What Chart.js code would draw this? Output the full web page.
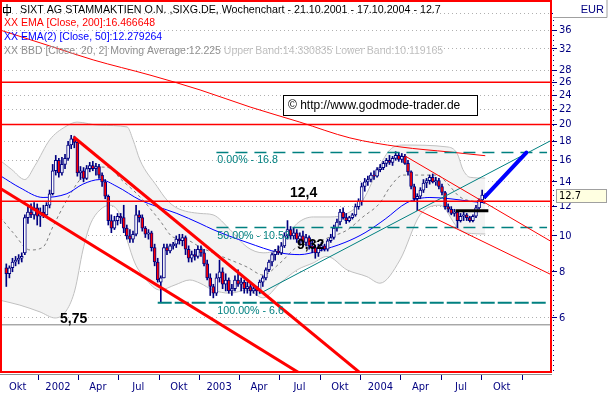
<!DOCTYPE html>
<html lang="de">
<head>
<meta charset="UTF-8">
<title>SIXT AG Wochenchart</title>
<script src="https://cdn.jsdelivr.net/npm/chart.js"></script>
<style>
  html, body { margin: 0; padding: 0; background: #fff; }
  #wrap { width: 610px; height: 395px; }
</style>
</head>
<body>
<div id="wrap"><canvas id="chart" width="610" height="395"></canvas></div>
<script>
// weekly candles, week 0 = 21.10.2001
const opens = [
  8.2, 7.9, 8.2, 8.5, 8.6, 8.7, 9.0, 11.2, 11.6, 11.4,
  11.9, 11.3, 11.6, 11.4, 12.1, 13.0, 15.0, 16.0, 14.8, 15.6,
  16.2, 17.6, 18.3, 17.9, 14.8, 15.0, 14.3, 15.2, 15.5, 15.2,
  15.4, 14.6, 14.0, 12.8, 11.0, 10.5, 11.0, 11.3, 11.2, 10.5,
  10.0, 9.8, 10.1, 11.4, 11.2, 10.5, 10.1, 10.2, 9.3, 8.5,
  7.5, 7.7, 9.3, 9.1, 9.4, 9.5, 9.8, 9.7, 9.9, 9.2,
  8.7, 8.9, 8.8, 9.2, 9.0, 8.4, 7.7, 7.3, 7.0, 7.7,
  8.0, 7.4, 7.6, 7.1, 7.2, 7.6, 7.4, 7.5, 7.2, 7.3,
  7.1, 7.2, 7.1, 7.5, 7.7, 8.1, 8.5, 8.9, 9.1, 9.0,
  9.4, 10.0, 10.4, 10.0, 10.2, 9.8, 10.0, 9.6, 9.9, 9.4,
  9.3, 9.0, 9.3, 9.4, 9.2, 9.7, 9.9, 10.5, 10.9, 11.6,
  11.2, 11.0, 11.2, 11.4, 12.0, 12.4, 13.6, 14.0, 14.2, 14.6,
  14.5, 15.1, 15.3, 15.7, 16.0, 15.8, 16.2, 16.5, 16.1, 16.4,
  15.7, 14.9, 13.6, 12.6, 12.8, 13.3, 13.9, 14.1, 14.4, 14.0,
  14.1, 13.6, 13.1, 12.0, 11.8, 11.5, 11.6, 11.0, 11.3, 11.4,
  11.2, 11.0, 11.3, 11.9, 12.5, 12.9
];
const highs = [
  8.4, 8.3, 8.7, 8.8, 8.9, 9.0, 11.4, 12.0, 12.2, 12.3,
  12.2, 11.9, 12.1, 12.3, 13.3, 15.6, 16.5, 16.2, 16.3, 16.6,
  18.0, 18.7, 18.6, 18.1, 15.4, 15.3, 15.5, 15.8, 15.9, 15.7,
  15.6, 14.8, 14.2, 12.9, 11.4, 11.3, 11.5, 11.5, 12.1, 10.7,
  10.4, 10.3, 12.1, 11.7, 11.4, 10.6, 10.4, 10.3, 9.5, 8.7,
  7.8, 9.5, 9.5, 9.5, 9.6, 10.0, 10.1, 10.1, 10.0, 9.4,
  9.1, 9.2, 9.4, 9.4, 9.2, 8.6, 7.9, 7.4, 7.9, 8.6,
  8.2, 7.9, 7.7, 7.4, 7.8, 8.1, 7.7, 7.6, 7.5, 7.4,
  7.4, 7.3, 7.6, 7.8, 8.2, 8.6, 9.0, 9.2, 9.4, 9.6,
  10.2, 11.0, 10.6, 10.5, 10.4, 10.2, 10.3, 10.1, 10.0, 9.7,
  9.4, 9.5, 9.6, 9.5, 9.8, 10.1, 10.7, 11.1, 11.8, 11.9,
  11.5, 11.3, 11.5, 12.2, 12.6, 13.9, 14.3, 14.5, 14.8, 15.0,
  15.3, 15.6, 15.9, 16.2, 16.5, 16.4, 16.9, 16.8, 16.7, 16.6,
  16.0, 15.0, 13.8, 13.0, 13.5, 14.2, 14.3, 14.6, 14.7, 14.4,
  14.3, 13.8, 13.2, 12.2, 12.0, 11.8, 11.7, 11.5, 11.6, 11.5,
  11.3, 11.4, 12.1, 12.6, 13.3, 13.0
];
const lows = [
  7.3, 7.7, 8.0, 8.3, 8.4, 8.5, 8.9, 10.8, 11.2, 11.1,
  10.7, 10.6, 11.2, 11.2, 11.9, 12.9, 14.6, 14.4, 14.6, 15.2,
  16.0, 17.2, 17.3, 14.5, 14.2, 14.0, 14.2, 14.9, 15.0, 14.6,
  14.3, 13.6, 12.6, 10.7, 10.2, 10.4, 10.7, 10.8, 10.2, 9.8,
  9.6, 9.6, 10.0, 10.9, 10.3, 9.9, 9.8, 9.1, 8.3, 7.5,
  6.6, 7.7, 8.9, 9.0, 9.2, 9.3, 9.5, 9.4, 8.9, 8.5,
  8.5, 8.6, 8.7, 8.8, 8.3, 7.6, 6.9, 6.8, 6.9, 7.5,
  7.2, 7.1, 7.0, 6.9, 7.1, 7.3, 7.1, 7.0, 7.0, 6.9,
  7.0, 6.9, 7.0, 7.3, 7.6, 8.0, 8.3, 8.6, 8.9, 8.9,
  9.3, 9.8, 9.8, 9.8, 9.6, 9.5, 9.4, 9.4, 9.2, 9.0,
  8.7, 8.8, 9.1, 9.1, 9.1, 9.6, 9.8, 10.3, 10.7, 11.1,
  10.8, 10.9, 11.1, 11.3, 11.8, 12.1, 13.2, 13.7, 14.0, 14.2,
  14.4, 14.9, 15.1, 15.4, 15.6, 15.5, 16.0, 15.9, 15.8, 15.6,
  14.6, 13.4, 12.4, 11.7, 12.6, 13.1, 13.5, 13.8, 13.9, 13.7,
  13.4, 12.9, 11.8, 11.6, 11.4, 11.3, 10.5, 10.9, 11.0, 11.0,
  10.9, 10.9, 11.2, 11.8, 12.3, 12.6
];
const closes = [
  7.9, 8.2, 8.5, 8.6, 8.7, 8.8, 11.2, 11.6, 11.4, 11.9,
  11.3, 11.6, 11.4, 12.1, 13.0, 15.0, 16.0, 14.8, 15.6, 16.2,
  17.6, 18.3, 17.9, 14.8, 15.0, 14.3, 15.2, 15.5, 15.2, 15.4,
  14.6, 14.0, 12.8, 11.0, 10.5, 11.0, 11.3, 11.2, 10.5, 10.0,
  9.8, 10.1, 11.4, 11.2, 10.5, 10.1, 10.2, 9.3, 8.5, 7.6,
  7.7, 9.3, 9.1, 9.4, 9.5, 9.8, 9.7, 9.9, 9.2, 8.7,
  8.9, 8.8, 9.2, 9.0, 8.4, 7.7, 7.3, 7.0, 7.7, 8.0,
  7.4, 7.6, 7.1, 7.2, 7.6, 7.4, 7.5, 7.2, 7.3, 7.1,
  7.2, 7.1, 7.5, 7.7, 8.1, 8.5, 8.9, 9.1, 9.0, 9.4,
  10.0, 10.4, 10.0, 10.2, 9.8, 10.0, 9.6, 9.9, 9.4, 9.3,
  9.0, 9.3, 9.4, 9.2, 9.7, 9.9, 10.5, 10.9, 11.6, 11.2,
  11.0, 11.2, 11.4, 12.0, 12.4, 13.6, 14.0, 14.2, 14.6, 14.5,
  15.1, 15.3, 15.7, 16.0, 15.8, 16.2, 16.5, 16.1, 16.4, 15.7,
  14.9, 13.6, 12.6, 12.8, 13.3, 13.9, 14.1, 14.4, 14.0, 14.1,
  13.6, 13.1, 12.0, 11.8, 11.5, 11.6, 11.0, 11.3, 11.4, 11.2,
  11.0, 11.3, 11.9, 12.5, 12.9, 12.7
];

// indicators, [week, price]
const ema200 = [[-2.0, 36.0], [14.1, 32.6], [28.1, 29.9], [46.5, 27.2], [62.7, 24.8], [78.9, 22.3],
  [95.0, 20.3], [111.2, 18.4], [127.4, 17.4], [143.6, 16.85], [155, 16.47]];
const ema50 = [[-1.7, 14.5], [4.4, 13.5], [11.9, 12.7], [19.6, 13.0], [24.8, 13.8], [30.3, 14.2],
  [35.8, 13.6], [43.3, 12.5], [48.8, 12.0], [55.2, 11.5], [62.7, 10.8], [66.9, 10.4], [77.9, 9.6],
  [88.6, 9.0], [95.0, 8.9], [100.9, 9.1], [109.6, 9.6], [116.1, 10.2], [122.6, 11.1], [129.7, 12.3],
  [137.1, 12.7], [143.6, 12.6], [150.1, 12.4], [155, 12.28]];
const bbMid = [[-2.0, 11.25], [2.2, 10.2], [7.7, 9.16], [11.9, 9.33], [15.1, 10.6], [19.6, 12.5],
  [23.9, 14.2], [29.4, 15.35], [33.6, 15.26], [36.8, 14.3], [41.0, 13.3], [44.2, 12.5], [49.7, 11.0],
  [53.9, 9.93], [58.5, 9.75], [62.7, 9.33], [66.9, 9.0], [77.9, 8.24], [83.1, 7.84], [88.6, 8.45],
  [94.1, 9.33], [99.3, 9.57], [104.8, 9.93], [110.3, 10.37], [115.4, 11.25], [120.9, 12.27],
  [124.2, 13.56], [128.4, 14.6], [132.9, 14.6], [139.4, 14.6], [142.6, 13.9], [146.8, 12.74],
  [152.3, 12.35], [155, 12.225]];
const bbUpper = [[-2.0, 16.0], [1.8, 15.1], [6.0, 14.2], [9.3, 15.5], [14.1, 18.2], [19.0, 19.7],
  [22.9, 20.3], [30.3, 19.9], [39.1, 19.7], [41.0, 18.2], [43.3, 16.0], [48.8, 13.6], [52.0, 12.5],
  [55.2, 11.9], [62.7, 11.5], [66.9, 11.4], [72.4, 10.4], [77.9, 9.33], [83.1, 9.0], [88.6, 9.33],
  [91.8, 10.2], [94.1, 10.8], [99.3, 11.25], [104.8, 11.25], [110.3, 11.5], [115.4, 12.5],
  [120.9, 15.5], [124.2, 17.1], [128.4, 17.6], [142.6, 17.4], [145.9, 16.7], [147.8, 15.1],
  [150.1, 14.4], [155, 14.33]];
const bbLower = [[-2.0, 6.7], [4.4, 6.5], [10.9, 6.23], [15.8, 6.0], [19.6, 6.31], [22.2, 7.14],
  [24.8, 9.16], [27.1, 10.7], [30.3, 11.75], [33.6, 12.1], [36.8, 11.4], [39.1, 9.75], [41.6, 8.45],
  [44.9, 7.68], [49.7, 7.14], [54.6, 7.37], [59.4, 7.6], [62.7, 7.45], [66.9, 7.14], [72.4, 7.0],
  [77.9, 7.14], [83.1, 6.8], [88.6, 7.45], [94.1, 8.09], [99.3, 8.45], [103.8, 8.8], [110.3, 8.09],
  [116.7, 7.76], [120.9, 7.45], [127.4, 8.61], [133.9, 11.4], [140.4, 12.1], [145.9, 10.57],
  [149.1, 10.18], [155, 10.12]];

// drawn lines, [week, price]
const channelUpper = [[21.8, 18.5], [117.3, 4.08]];
const channelLower = [[-3.6, 13.7], [101.2, 3.95]];
const channel04Upper = [[129.0, 16.45], [179.2, 9.35]];
const channel04Lower = [[133.2, 11.75], [179.2, 7.65]];
const trendLine = [[81.8, 6.97], [176.0, 18.05]];
const forecast = [[155.1, 12.8], [168.3, 16.8]];
const marker = [[145.4, 11.7], [156.0, 11.7]];
const levelsRed = [26, 20, 12.4];
const level575 = 5.75;
const fibLevels = [16.8, 10.53, 6.6];
const fibLabels = ['0.00% - 16.8', '50.00% - 10.53', '100.00% - 6.6'];
const fibStart = [68.0, 68.0, 49.0];

// axes
const quarterStarts = [-2.86, 10.29, 23.14, 36.14, 49.29, 62.43, 75.29, 88.29, 101.43, 114.57, 127.57, 140.57, 153.71, 166.86];
const xLabels = ['Okt', '2002', 'Apr', 'Jul', 'Okt', '2003', 'Apr', 'Jul', 'Okt', '2004', 'Apr', 'Jul', 'Okt'];
const yTicks = [6, 8, 10, 12, 14, 16, 18, 20, 22, 24, 26, 28, 32, 36, 40];

const X_MIN = -2.04, X_MAX = 176.6;
const Y_MIN = 4.287, Y_MAX = 43.4;
const navy = '#000080';
const teal = '#008080';
const sans = '"Liberation Sans", Arial, sans-serif';
const narrow = '"Liberation Sans Narrow", "DejaVu Sans Condensed", Arial, sans-serif';

const pts = arr => arr.map(p => ({x: p[0], y: p[1]}));
const hline = v => [{x: X_MIN, y: v}, {x: X_MAX, y: v}];

function line(data, color, width, extra) {
  return Object.assign({
    type: 'line', data: data, borderColor: color, borderWidth: width,
    pointRadius: 0, fill: false, tension: 0
  }, extra || {});
}

const datasets = [
  line(pts(bbUpper), '#c0c0c0', 1, {fill: '+1', backgroundColor: '#f3f3f3', cubicInterpolationMode: 'monotone'}),
  line(pts(bbLower), '#c0c0c0', 1, {cubicInterpolationMode: 'monotone'}),
  line(pts(bbMid), '#808080', 1, {borderDash: [3, 3], cubicInterpolationMode: 'monotone'}),
  line(pts(ema200), '#ff0000', 1, {cubicInterpolationMode: 'monotone'}),
  line(pts(ema50), '#0000ff', 1, {cubicInterpolationMode: 'monotone'}),
  {
    type: 'bar',
    data: opens.map((o, i) => ({x: i, y: [lows[i], highs[i]]})),
    backgroundColor: navy, barThickness: 1, grouped: false
  },
  {
    type: 'bar',
    data: opens.map((o, i) => ({x: i, y: [o, closes[i]]})),
    backgroundColor: opens.map((o, i) => closes[i] < o ? '#ff0000' : '#ffffff'),
    borderColor: navy, borderWidth: 1, borderSkipped: false, barThickness: 3, grouped: false
  },
  line(hline(level575), '#808080', 1),
  line(pts(trendLine), teal, 1),
  ...fibLevels.map((v, k) => line([{x: fibStart[k], y: v}, {x: 175, y: v}], teal,
    k === 2 ? 2 : 1.5, {borderDash: k === 2 ? [14, 3] : [12, 7]})),
  ...levelsRed.map(v => line(hline(v), '#ff0000', 1.5)),
  line(pts(channelUpper), '#ff0000', 3),
  line(pts(channelLower), '#ff0000', 3),
  line(pts(channel04Upper), '#ff0000', 1),
  line(pts(channel04Lower), '#ff0000', 1),
  line(pts(marker), '#000000', 3),
  line(pts(forecast), '#0000ff', 4, {borderCapStyle: 'round'})
];
datasets.forEach((d, i) => { d.order = -i; });

const deco = {
  id: 'deco',
  afterDatasetsDraw(chart) {
    const {ctx, scales: {x, y}} = chart;
    ctx.save();

    // red frame around plot
    ctx.strokeStyle = '#ff0000';
    ctx.lineWidth = 2;
    ctx.strokeRect(1, 1, 550, 371);

    // annotations
    ctx.fillStyle = '#000';
    ctx.textBaseline = 'alphabetic';
    ctx.font = 'bold 14px ' + sans;
    ctx.fillText('12,4', x.getPixelForValue(91.8), y.getPixelForValue(12.4) - 4);
    ctx.fillText('9,32', x.getPixelForValue(94.1), y.getPixelForValue(9.32) + 2);
    ctx.fillText('5,75', x.getPixelForValue(17.4), y.getPixelForValue(5.75) - 2);

    ctx.font = '10.7px ' + sans;
    ctx.fillStyle = teal;
    ctx.textBaseline = 'middle';
    fibLevels.forEach((v, k) => {
      ctx.fillText(fibLabels[k], x.getPixelForValue(68.3), y.getPixelForValue(v) + 8);
    });

    // copyright box
    ctx.fillStyle = '#fff';
    ctx.fillRect(283, 95, 194, 20);
    ctx.strokeStyle = '#000';
    ctx.lineWidth = 1;
    ctx.strokeRect(283.5, 95.5, 194, 20);
    ctx.fillStyle = '#000';
    ctx.font = '12px ' + sans;
    ctx.fillText('\u00a9 http://www.godmode-trader.de', 288, 106);

    // legend lines
    ctx.font = '10.7px ' + sans;
    ctx.fillStyle = '#000';
    ctx.fillText('SIXT AG STAMMAKTIEN O.N. ,SIXG.DE, Wochenchart - 21.10.2001 - 17.10.2004 - 12.7', 20, 10);
    ctx.strokeStyle = '#000';
    ctx.strokeRect(3.5, 7.5, 7, 5);
    ctx.beginPath(); ctx.moveTo(7, 4); ctx.lineTo(7, 16); ctx.stroke();
    ctx.font = '10.5px ' + sans;
    ctx.fillStyle = '#ff0000';
    ctx.fillText('XX EMA [Close, 200]:16.466648', 4, 23.5);
    ctx.fillStyle = '#0000ff';
    ctx.fillText('XX EMA(2) [Close, 50]:12.279264', 4, 37);
    const bb = 'XX BBD [Close, 20, 2] Moving Average:12.225';
    ctx.fillStyle = '#909090';
    ctx.fillText(bb, 4, 51);
    ctx.fillStyle = '#c0c0c0';
    ctx.fillText(' Upper Band:14.330835 Lower Band:10.119165', 4 + ctx.measureText(bb).width, 51);

    // bottom axis line and quarter ticks
    ctx.strokeStyle = '#909090';
    ctx.beginPath(); ctx.moveTo(0, 374.5); ctx.lineTo(552, 374.5); ctx.stroke();
    ctx.strokeStyle = navy;
    quarterStarts.forEach(q => {
      const px = Math.round(x.getPixelForValue(q)) + 0.5;
      if (px > 2 && px < 550) {
        ctx.beginPath(); ctx.moveTo(px, 375); ctx.lineTo(px, 380); ctx.stroke();
      }
    });

    // right axis minor dots
    ctx.setLineDash([1, 4]);
    ctx.beginPath(); ctx.moveTo(553.5, 20); ctx.lineTo(553.5, 372); ctx.stroke();
    ctx.setLineDash([]);

    // EUR header
    ctx.fillStyle = '#fff';
    ctx.fillRect(553, 0, 57, 17);
    ctx.strokeStyle = '#a0a0a0';
    ctx.beginPath(); ctx.moveTo(553, 17.5); ctx.lineTo(607, 17.5); ctx.lineTo(607, 0); ctx.stroke();
    ctx.fillStyle = navy;
    ctx.textAlign = 'right';
    ctx.font = '11px ' + sans;
    ctx.fillText('EUR', 604, 10);

    // last price box
    const py = Math.round(y.getPixelForValue(closes[closes.length - 1]));
    ctx.fillStyle = '#ffffe1';
    ctx.fillRect(556.5, py - 7.5, 50, 13);
    ctx.strokeStyle = '#a0a0a0';
    ctx.strokeRect(556.5, py - 7.5, 50, 13);
    ctx.textAlign = 'left';
    ctx.fillStyle = '#000';
    ctx.font = '11px ' + narrow;
    ctx.fillText('12.7', 559, py - 1);
    ctx.restore();
  }
};

new Chart(document.getElementById('chart'), {
  type: 'bar',
  data: {datasets: datasets},
  options: {
    responsive: false,
    animation: false,
    events: [],
    layout: {padding: 0},
    plugins: {legend: {display: false}, title: {display: false}, tooltip: {enabled: false}},
    scales: {
      x: {
        type: 'linear', position: 'bottom', min: X_MIN, max: X_MAX, bounds: 'data', offset: false,
        grid: {display: false, drawTicks: false},
        border: {display: false},
        afterBuildTicks(s) {
          s.ticks = xLabels.map((l, k) => ({value: (quarterStarts[k] + quarterStarts[k + 1]) / 2}));
        },
        ticks: {
          autoSkip: false, maxRotation: 0, padding: 9, color: navy,
          font: {family: narrow, size: 11},
          callback: (v, k) => xLabels[k]
        },
        afterFit(s) { s.height = 23; s.paddingLeft = 0; s.paddingRight = 0; }
      },
      y: {
        type: 'logarithmic', position: 'right', min: Y_MIN, max: Y_MAX, bounds: 'data',
        afterBuildTicks(s) { s.ticks = yTicks.map(v => ({value: v})); },
        grid: {color: '#b0b0b0', tickColor: navy, tickLength: 5, tickBorderDash: []},
        border: {display: false, dash: [1, 3]},
        ticks: {
          autoSkip: false, padding: 2, color: navy,
          font: {family: narrow, size: 11},
          callback: v => (v === 40 ? '' : String(v))
        },
        afterFit(s) { s.width = 58; s.paddingTop = 0; s.paddingBottom = 0; }
      }
    }
  },
  plugins: [deco]
});
</script>
</body>
</html>
